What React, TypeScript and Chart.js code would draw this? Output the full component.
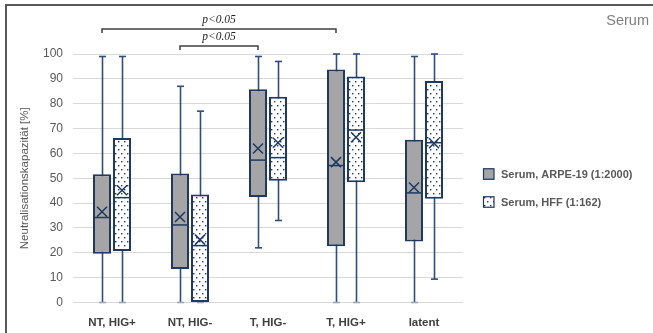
import { useEffect, useRef } from 'react';
import { Chart, registerables } from 'chart.js';

Chart.register(...registerables);

// Patient groups on the x axis
const categories = ['NT, HIG+', 'NT, HIG-', 'T, HIG-', 'T, HIG+', 'latent'];

// Serum, ARPE-19 (1:2000): five-number summary and mean per group [%]
const arpeMin = [0, 0, 22, 0, 0];
const arpeQ1 = [19.6, 13.5, 42.5, 22.6, 24.5];
const arpeMedian = [34.2, 31.2, 57.3, 55.1, 44.1];
const arpeQ3 = [51.6, 51.9, 85.8, 93.8, 65.5];
const arpeMax = [99, 87, 99, 100, 99];
const arpeMean = [36.5, 34.4, 62, 56.5, 46.3];

// Serum, HFF (1:162)
const hffMin = [0, 0, 33, 0, 9.4];
const hffQ1 = [20.7, 0, 49, 48.4, 41.8];
const hffMedian = [42.2, 22.9, 58.3, 69.4, 64.3];
const hffQ3 = [66.2, 43.5, 82.8, 90.9, 89.1];
const hffMax = [99, 77, 97, 100, 100];
const hffMean = [45.2, 25.3, 64.3, 66.5, 64.1];

const seriesLabels = ['Serum, ARPE-19 (1:2000)', 'Serum, HFF (1:162)'];

// y axis range
const yMin = 0;
const yMax = 100;
const yStep = 10;

// significance brackets between ARPE-19 boxes (category indices)
const bracketFrom = [0, 1];
const bracketTo = [3, 2];
const bracketText = ['p<0.05', 'p<0.05'];

const NAVY = '#1F3864';
const WHISKER = '#2F4D80';
const GRAY_FILL = '#A5A5A5';
const TEXT = '#595959';
const SANS = "'Liberation Sans', Arial, sans-serif";

const stats = [
  { min: arpeMin, q1: arpeQ1, med: arpeMedian, q3: arpeQ3, max: arpeMax, mean: arpeMean },
  { min: hffMin, q1: hffQ1, med: hffMedian, q3: hffQ3, max: hffMax, mean: hffMean },
];

function dotPattern(ctx: CanvasRenderingContext2D): CanvasPattern | string {
  const tile = document.createElement('canvas');
  tile.width = 6;
  tile.height = 8;
  const t = tile.getContext('2d');
  if (!t) return '#fff';
  t.fillStyle = '#ffffff';
  t.fillRect(0, 0, 6, 8);
  t.fillStyle = NAVY;
  t.fillRect(1, 1, 1.4, 1.4);
  t.fillRect(4, 5, 1.4, 1.4);
  return ctx.createPattern(tile, 'repeat') || '#fff';
}

const boxParts = {
  id: 'boxParts',
  beforeDatasetsDraw(chart: any) {
    const { ctx } = chart;
    const y = chart.scales.y;
    ctx.save();
    stats.forEach((s, di) => {
      const meta = chart.getDatasetMeta(di);
      meta.data.forEach((bar: any, i: number) => {
        const x = Math.round(bar.x) + 0.5;
        const yTop = y.getPixelForValue(s.max[i]);
        const yBot = y.getPixelForValue(s.min[i]);
        ctx.strokeStyle = WHISKER;
        ctx.lineWidth = 1.6;
        ctx.beginPath();
        ctx.moveTo(x, yTop);
        ctx.lineTo(x, yBot);
        ctx.stroke();
        // caps
        ctx.beginPath();
        ctx.moveTo(x - 3.5, yTop);
        ctx.lineTo(x + 3.5, yTop);
        ctx.stroke();
        ctx.strokeStyle = s.min[i] === 0 ? '#9AA6BC' : WHISKER;
        ctx.beginPath();
        ctx.moveTo(x - 3.5, yBot);
        ctx.lineTo(x + 3.5, yBot);
        ctx.stroke();
      });
    });
    ctx.restore();
  },
  afterDatasetsDraw(chart: any) {
    const { ctx, chartArea } = chart;
    const y = chart.scales.y;
    ctx.save();
    // medians and means
    stats.forEach((s, di) => {
      const meta = chart.getDatasetMeta(di);
      meta.data.forEach((bar: any, i: number) => {
        const half = bar.width / 2;
        const ym = y.getPixelForValue(s.med[i]);
        ctx.strokeStyle = NAVY;
        ctx.lineWidth = 1.5;
        ctx.beginPath();
        ctx.moveTo(bar.x - half, ym);
        ctx.lineTo(bar.x + half, ym);
        ctx.stroke();
        const yx = y.getPixelForValue(s.mean[i]);
        const r = 5;
        ctx.beginPath();
        ctx.moveTo(bar.x - r, yx - r);
        ctx.lineTo(bar.x + r, yx + r);
        ctx.moveTo(bar.x + r, yx - r);
        ctx.lineTo(bar.x - r, yx + r);
        ctx.stroke();
      });
    });

    // significance brackets
    const meta0 = chart.getDatasetMeta(0);
    bracketFrom.forEach((from, k) => {
      const x1 = meta0.data[from].x;
      const x2 = meta0.data[bracketTo[k]].x;
      const level = Math.abs(bracketTo[k] - from);
      const by = chartArea.top - 8 - (level - 1) * 8.5;
      ctx.strokeStyle = '#404040';
      ctx.lineWidth = 1.5;
      ctx.beginPath();
      ctx.moveTo(x1, by + 4);
      ctx.lineTo(x1, by);
      ctx.lineTo(x2, by);
      ctx.lineTo(x2, by + 4);
      ctx.stroke();
      ctx.fillStyle = '#262626';
      ctx.font = "italic 11.5px 'Liberation Serif', 'Times New Roman', serif";
      ctx.textAlign = 'center';
      ctx.textBaseline = 'alphabetic';
      ctx.fillText(bracketText[k], (x1 + x2) / 2, by - 6);
    });

    // legend
    const fills = [GRAY_FILL, chart.data.datasets[1].backgroundColor];
    const lx = chartArea.right + 20;
    const cy = (chartArea.top + chartArea.bottom) / 2;
    seriesLabels.forEach((label, k) => {
      const iy = cy - 4 + k * 28;
      ctx.fillStyle = fills[k];
      ctx.fillRect(lx, iy - 5.5, 11, 11);
      ctx.strokeStyle = NAVY;
      ctx.lineWidth = 1.2;
      ctx.strokeRect(lx + 0.5, iy - 5.5, 10.5, 10.5);
      ctx.fillStyle = TEXT;
      ctx.font = `bold 11px ${SANS}`;
      ctx.textAlign = 'left';
      ctx.textBaseline = 'middle';
      ctx.fillText(label, lx + 18, iy + 0.5);
    });

    // title
    ctx.fillStyle = '#7F7F7F';
    ctx.font = `14.5px ${SANS}`;
    ctx.textAlign = 'right';
    ctx.textBaseline = 'middle';
    ctx.fillText('Serum', chart.width - 4, 21);

    // frame edges
    ctx.strokeStyle = '#595959';
    ctx.lineWidth = 2;
    ctx.beginPath();
    ctx.moveTo(6, chart.height);
    ctx.lineTo(6, 5);
    ctx.lineTo(chart.width, 5);
    ctx.stroke();
    ctx.restore();
  },
};

export default function App() {
  const ref = useRef<HTMLCanvasElement | null>(null);

  useEffect(() => {
    const canvas = ref.current;
    if (!canvas) return;
    const ctx = canvas.getContext('2d');
    if (!ctx) return;
    const dots = dotPattern(ctx);
    const chart = new Chart(canvas, {
      type: 'bar',
      data: {
        labels: categories,
        datasets: [
          {
            label: seriesLabels[0],
            data: arpeQ1.map((q, i) => [q, arpeQ3[i]]),
            backgroundColor: GRAY_FILL,
            borderColor: NAVY,
            borderWidth: 2,
            borderSkipped: false,
          },
          {
            label: seriesLabels[1],
            data: hffQ1.map((q, i) => [q, hffQ3[i]]),
            backgroundColor: dots,
            borderColor: NAVY,
            borderWidth: 2,
            borderSkipped: false,
          },
        ],
      } as any,
      options: {
        animation: false,
        responsive: false,
        maintainAspectRatio: false,
        categoryPercentage: 0.513,
        barPercentage: 0.9,
        layout: { padding: { left: 0, right: 190, top: 54, bottom: 0 } },
        plugins: { legend: { display: false }, tooltip: { enabled: false } },
        scales: {
          x: {
            grid: { display: false, drawTicks: false },
            border: { display: false },
            ticks: {
              color: '#404040',
              font: { family: SANS, size: 11.5, weight: 'bold' },
              padding: 13,
            },
            afterFit: (scale: any) => {
              scale.height = 30.5;
            },
          },
          y: {
            min: yMin,
            max: yMax,
            grid: { color: '#D9D9D9', lineWidth: 1, drawTicks: false },
            border: { display: false },
            ticks: {
              stepSize: yStep,
              color: TEXT,
              font: { family: SANS, size: 12 },
              padding: 10,
            },
            title: {
              display: true,
              text: 'Neutralisationskapazität [%]',
              color: TEXT,
              font: { family: SANS, size: 11.5 },
              padding: { top: 18, bottom: 0 },
            },
            afterFit: (scale: any) => {
              scale.width = 73;
            },
          },
        },
      } as any,
      plugins: [boxParts],
    });
    return () => chart.destroy();
  }, []);

  return (
    <div style={{ position: 'fixed', left: 0, top: 0, width: 653, height: 333, background: '#fff' }}>
      <canvas ref={ref} width={653} height={333} style={{ display: 'block' }} />
    </div>
  );
}
